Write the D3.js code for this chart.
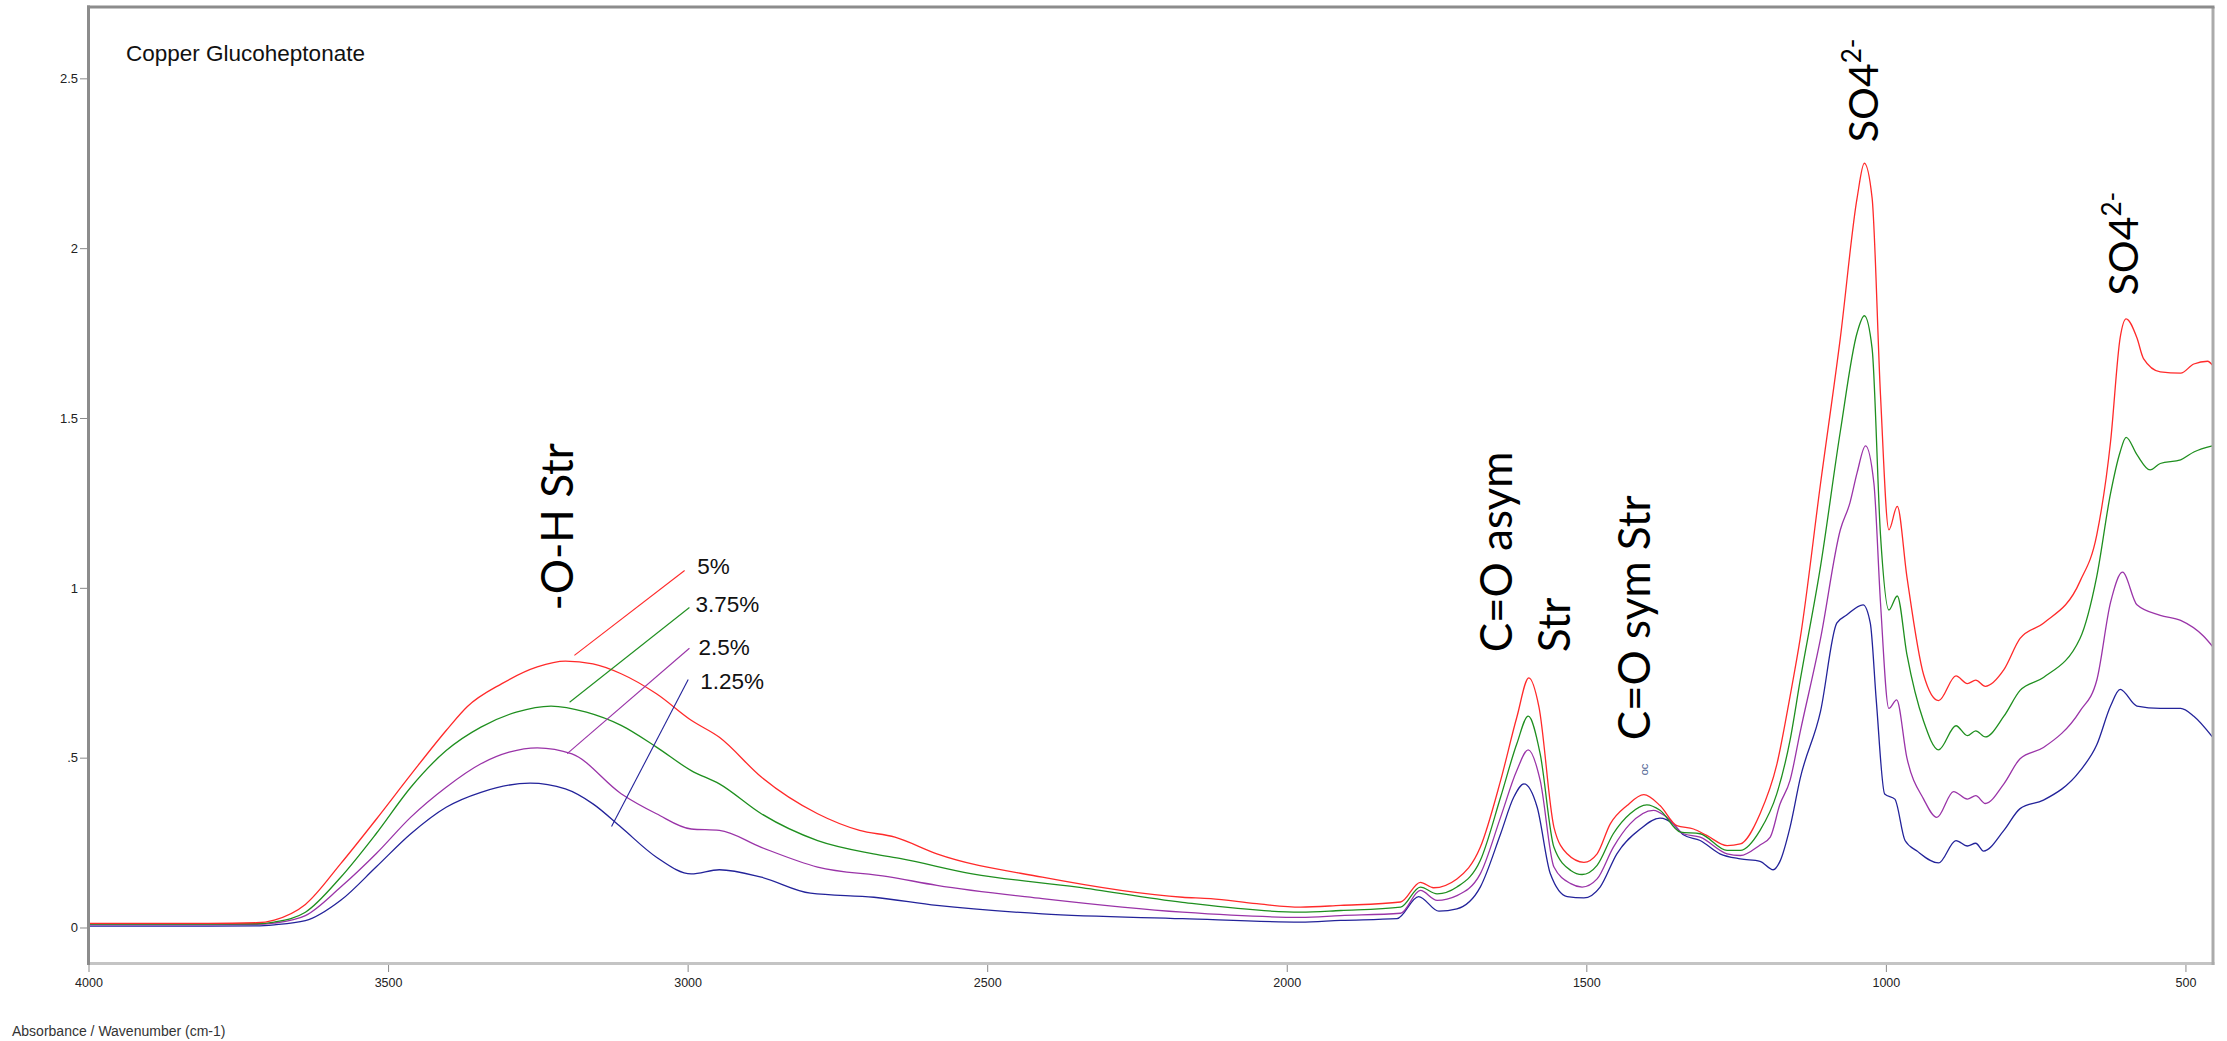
<!DOCTYPE html>
<html>
<head>
<meta charset="utf-8">
<title>Copper Glucoheptonate – FTIR absorbance</title>
<script src="https://cdn.jsdelivr.net/npm/d3@7"></script>
<style>
  html, body { margin: 0; padding: 0; background: #ffffff; }
  svg { display: block; }
  .tick text { font-family: "Liberation Sans", Arial, sans-serif; fill: #222; }
  .tick line { stroke: #8a8a8a; }
</style>
</head>
<body>
<svg id="chart" width="2227" height="1041"></svg>
<script>
// ---- Spectra: [wavenumber (cm-1), absorbance] -------------------------
const spectrum5 = [
  [4000,0.012],[3800,0.012],[3720,0.014],[3690,0.022],[3638,0.068],[3579,0.188],[3520,0.318],
  [3462,0.45],[3403,0.58],[3368,0.65],[3310,0.718],[3251,0.767],[3204,0.784],[3158,0.776],
  [3111,0.747],[3052,0.688],[2994,0.61],[2947,0.56],[2877,0.443],[2783,0.335],[2713,0.286],
  [2654,0.266],[2584,0.217],[2408,0.148],[2174,0.089],[2127,0.085],[2050,0.07],[1977,0.06],
  [1910,0.065],[1810,0.075],[1777,0.133],[1755,0.117],[1716,0.143],[1677,0.236],[1643,0.433],
  [1616,0.619],[1596,0.735],[1579,0.649],[1554,0.295],[1532,0.217],[1504,0.192],[1482,0.217],
  [1460,0.305],[1432,0.359],[1404,0.391],[1377,0.359],[1349,0.30],[1321,0.29],[1299,0.271],
  [1265,0.241],[1243,0.246],[1210,0.335],[1182,0.48],[1160,0.68],[1143,0.851],[1109,1.308],
  [1076,1.736],[1048,2.148],[1036,2.25],[1023,2.148],[1009,1.568],[995,1.171],[981,1.24],
  [965,1.034],[937,0.744],[912,0.668],[883,0.741],[864,0.718],[850,0.728],[834,0.71],
  [803,0.759],[776,0.851],[737,0.896],[676,1.019],[648,1.156],[625,1.43],[609,1.736],
  [599,1.792],[581,1.736],[570,1.675],[542,1.636],[508,1.632],[486,1.659],[463,1.667],[455,1.656]
];
const spectrum375 = [
  [4000,0.010],[3800,0.010],[3720,0.011],[3690,0.016],[3638,0.045],[3579,0.148],[3520,0.276],
  [3462,0.413],[3403,0.521],[3345,0.59],[3286,0.634],[3228,0.652],[3169,0.634],[3111,0.595],
  [3052,0.531],[2994,0.462],[2947,0.423],[2877,0.335],[2783,0.256],[2690,0.217],[2642,0.202],
  [2525,0.158],[2349,0.119],[2174,0.074],[1977,0.045],[1910,0.05],[1810,0.06],[1777,0.119],
  [1749,0.099],[1716,0.119],[1677,0.197],[1643,0.384],[1616,0.541],[1597,0.622],[1577,0.511],
  [1554,0.236],[1526,0.168],[1507,0.156],[1482,0.183],[1455,0.276],[1427,0.335],[1399,0.361],
  [1377,0.345],[1343,0.281],[1310,0.276],[1265,0.227],[1243,0.227],[1210,0.286],[1182,0.394],
  [1160,0.551],[1143,0.728],[1109,1.064],[1076,1.461],[1048,1.751],[1036,1.801],[1023,1.705],
  [1009,1.156],[995,0.935],[981,0.976],[965,0.805],[937,0.607],[912,0.523],[883,0.594],
  [864,0.565],[850,0.579],[834,0.561],[803,0.622],[776,0.698],[737,0.736],[676,0.851],
  [648,1.034],[625,1.278],[609,1.40],[599,1.443],[581,1.392],[559,1.347],[542,1.366],
  [508,1.377],[486,1.40],[455,1.418]
];
const spectrum25 = [
  [4000,0.008],[3800,0.008],[3720,0.009],[3690,0.013],[3638,0.035],[3579,0.119],[3520,0.217],
  [3462,0.325],[3403,0.413],[3345,0.482],[3298,0.516],[3251,0.529],[3193,0.511],[3111,0.394],
  [3052,0.335],[2994,0.29],[2947,0.286],[2877,0.236],[2783,0.178],[2666,0.15],[2584,0.124],
  [2408,0.085],[2174,0.045],[1977,0.03],[1910,0.035],[1810,0.042],[1777,0.109],[1749,0.08],
  [1716,0.094],[1677,0.158],[1643,0.325],[1616,0.462],[1597,0.523],[1577,0.433],[1554,0.178],
  [1526,0.129],[1507,0.119],[1482,0.143],[1455,0.236],[1427,0.305],[1388,0.345],[1366,0.325],
  [1338,0.276],[1310,0.266],[1265,0.217],[1243,0.212],[1210,0.243],[1193,0.266],[1177,0.362],
  [1160,0.433],[1143,0.576],[1109,0.851],[1076,1.171],[1060,1.25],[1048,1.339],[1034,1.418],
  [1020,1.308],[1009,0.957],[995,0.645],[982,0.67],[965,0.50],[937,0.378],[915,0.324],
  [887,0.40],[864,0.378],[850,0.388],[834,0.365],[803,0.423],[776,0.497],[737,0.53],
  [676,0.637],[648,0.728],[625,0.957],[605,1.046],[581,0.95],[542,0.919],[508,0.904],
  [470,0.858],[455,0.828]
];
const spectrum125 = [
  [4000,0.004],[3800,0.004],[3720,0.005],[3690,0.008],[3638,0.02],[3579,0.08],[3520,0.178],
  [3462,0.276],[3403,0.354],[3345,0.398],[3263,0.425],[3204,0.408],[3158,0.364],[3111,0.295],
  [3052,0.207],[2994,0.158],[2947,0.17],[2877,0.148],[2795,0.101],[2689,0.089],[2584,0.065],
  [2408,0.04],[2174,0.026],[1977,0.016],[1910,0.021],[1816,0.026],[1780,0.091],[1746,0.048],
  [1716,0.055],[1677,0.119],[1643,0.276],[1621,0.384],[1604,0.423],[1582,0.354],[1560,0.158],
  [1532,0.091],[1504,0.087],[1477,0.119],[1449,0.217],[1410,0.29],[1377,0.322],[1355,0.305],
  [1338,0.273],[1310,0.256],[1277,0.217],[1243,0.202],[1210,0.195],[1188,0.17],[1177,0.194],
  [1160,0.295],[1143,0.439],[1109,0.637],[1082,0.896],[1066,0.919],[1038,0.95],[1026,0.896],
  [1016,0.668],[1002,0.393],[985,0.378],[968,0.256],[948,0.225],[912,0.19],[883,0.256],
  [864,0.24],[850,0.248],[837,0.225],[803,0.286],[776,0.35],[737,0.375],[676,0.461],
  [648,0.538],[625,0.652],[609,0.701],[581,0.652],[542,0.645],[508,0.645],[486,0.622],[455,0.561]
];

// Series order: bottom-most drawn first
const seriesNames  = ["1.25%", "2.5%", "3.75%", "5%"];
const seriesColors = ["#23239a", "#9a34a8", "#1f8f1f", "#ff2a2a"];
const seriesData   = [spectrum125, spectrum25, spectrum375, spectrum5];

// Axis ticks
const wavenumberTicks = [4000, 3500, 3000, 2500, 2000, 1500, 1000, 500];
const absorbanceTicks = [0, 0.5, 1, 1.5, 2, 2.5];
const absorbanceTickLabels = ["0", ".5", "1", "1.5", "2", "2.5"];

// Concentration labels with their leader lines: [wavenumber, absorbance]
const legendLabels = ["5%", "3.75%", "2.5%", "1.25%"];
const legendLabelAt = [[2984, 1.042], [2987, 0.930], [2982, 0.801], [2979, 0.701]];
const leaderFrom = [[3005, 1.051], [2997, 0.942], [2997, 0.822], [2999, 0.730]];
const leaderTo   = [[3189, 0.801], [3197, 0.663], [3201, 0.512], [3127, 0.297]];
const leaderColors = ["#ff2a2a", "#1f8f1f", "#9a34a8", "#23239a"];

// Band assignments (vertical text), anchored at [wavenumber, absorbance]
const bandLabels = ["-O-H Str", "C=O asym", "Str", "C=O sym Str"];
const bandLabelAt = [[3192, 0.933], [1624, 0.810], [1527, 0.810], [1393, 0.551]];
const sulfateLabelAt = [[1013, 2.312], [579, 1.861]];

// ---- Layout ------------------------------------------------------------
const frame = { left: 88.5, right: 2213, top: 7, bottom: 963.5 };

const svg = d3.select("#chart");

const x = d3.scaleLinear().domain([4000, 454]).range([frame.left, frame.right]);
const y = d3.scaleLinear().domain([-0.106, 2.71]).range([frame.bottom, frame.top]);

// Clip for spectra
svg.append("defs").append("clipPath").attr("id", "plotClip")
  .append("rect")
  .attr("x", frame.left).attr("y", frame.top)
  .attr("width", frame.right - frame.left).attr("height", frame.bottom - frame.top);

// Axes
const yAxis = d3.axisLeft(y)
  .tickValues(absorbanceTicks)
  .tickFormat((d, i) => absorbanceTickLabels[i])
  .tickSize(7).tickPadding(2);
const gy = svg.append("g")
  .attr("transform", `translate(${frame.left - 1.5},0)`)
  .call(yAxis);
gy.select(".domain").remove();
gy.selectAll(".tick text").attr("font-size", 13);

const xAxis = d3.axisBottom(x)
  .tickValues(wavenumberTicks)
  .tickFormat(d3.format("d"))
  .tickSize(7).tickPadding(6);
const gx = svg.append("g")
  .attr("transform", `translate(0,${frame.bottom + 1.5})`)
  .call(xAxis);
gx.select(".domain").remove();
gx.selectAll(".tick text").attr("font-size", 12.5);

// Spectra
const line = d3.line()
  .x(d => x(d[0]))
  .y(d => y(d[1]))
  .curve(d3.curveMonotoneX);

svg.append("g").attr("clip-path", "url(#plotClip)")
  .selectAll("path")
  .data(seriesData)
  .join("path")
  .attr("d", line)
  .attr("fill", "none")
  .attr("stroke", (d, i) => seriesColors[i])
  .attr("stroke-width", 1.3)
  .attr("stroke-linejoin", "round");

// Plot frame: darker on the left/top, lighter on the right/bottom
const frameG = svg.append("g").attr("fill", "none").attr("stroke-width", 3);
frameG.append("line").attr("x1", frame.left).attr("x2", frame.right + 1.5)
  .attr("y1", frame.bottom).attr("y2", frame.bottom).attr("stroke", "#c4c4c4");
frameG.append("line").attr("x1", frame.right).attr("x2", frame.right)
  .attr("y1", frame.top).attr("y2", frame.bottom + 1.5).attr("stroke", "#ababab");
frameG.append("line").attr("x1", frame.left).attr("x2", frame.left)
  .attr("y1", frame.top - 1.5).attr("y2", frame.bottom + 1.5).attr("stroke", "#8c8c8c");
frameG.append("line").attr("x1", frame.left - 1.5).attr("x2", frame.right + 1.5)
  .attr("y1", frame.top).attr("y2", frame.top).attr("stroke", "#8c8c8c");

// Title and axis caption
svg.append("text")
  .attr("x", 126).attr("y", 61)
  .attr("font-family", "'Liberation Sans', Arial, sans-serif")
  .attr("font-size", 22.5).attr("fill", "#111")
  .text("Copper Glucoheptonate");

svg.append("text")
  .attr("x", 12).attr("y", 1036)
  .attr("font-family", "'Liberation Sans', Arial, sans-serif")
  .attr("font-size", 14).attr("fill", "#333")
  .text("Absorbance / Wavenumber (cm-1)");

// Leader lines and concentration labels
const ann = svg.append("g");
ann.selectAll("line.leader")
  .data(leaderFrom)
  .join("line")
  .attr("class", "leader")
  .attr("x1", d => x(d[0])).attr("y1", d => y(d[1]))
  .attr("x2", (d, i) => x(leaderTo[i][0])).attr("y2", (d, i) => y(leaderTo[i][1]))
  .attr("stroke", (d, i) => leaderColors[i])
  .attr("stroke-width", 1.1);

ann.selectAll("text.conc")
  .data(legendLabels)
  .join("text")
  .attr("class", "conc")
  .attr("x", (d, i) => x(legendLabelAt[i][0]))
  .attr("y", (d, i) => y(legendLabelAt[i][1]))
  .attr("font-family", "'Liberation Sans', Arial, sans-serif")
  .attr("font-size", 22.5).attr("fill", "#111")
  .text(d => d);

// Vertical band assignment labels
const bandFont = "Lato, 'Open Sans', sans-serif";
ann.selectAll("text.band")
  .data(bandLabels)
  .join("text")
  .attr("class", "band")
  .attr("transform", (d, i) => `translate(${x(bandLabelAt[i][0])},${y(bandLabelAt[i][1])}) rotate(-90)`)
  .attr("font-family", bandFont)
  .attr("font-size", 44).attr("fill", "#000")
  .text(d => d);

sulfateLabelAt.forEach(p => {
  const t = ann.append("text")
    .attr("transform", `translate(${x(p[0])},${y(p[1])}) rotate(-90)`)
    .attr("font-family", bandFont)
    .attr("font-size", 41).attr("fill", "#000");
  t.append("tspan").text("SO4");
  t.append("tspan").attr("font-size", 26).attr("dy", -17).text("2-");
});

// small stray glyph beside the symmetric stretch label
ann.append("text")
  .attr("transform", `translate(${x(1397)},${y(0.448)}) rotate(-90)`)
  .attr("font-family", "'Liberation Sans', Arial, sans-serif")
  .attr("font-size", 11).attr("fill", "#4a5f8f")
  .text("oc");
</script>
</body>
</html>
